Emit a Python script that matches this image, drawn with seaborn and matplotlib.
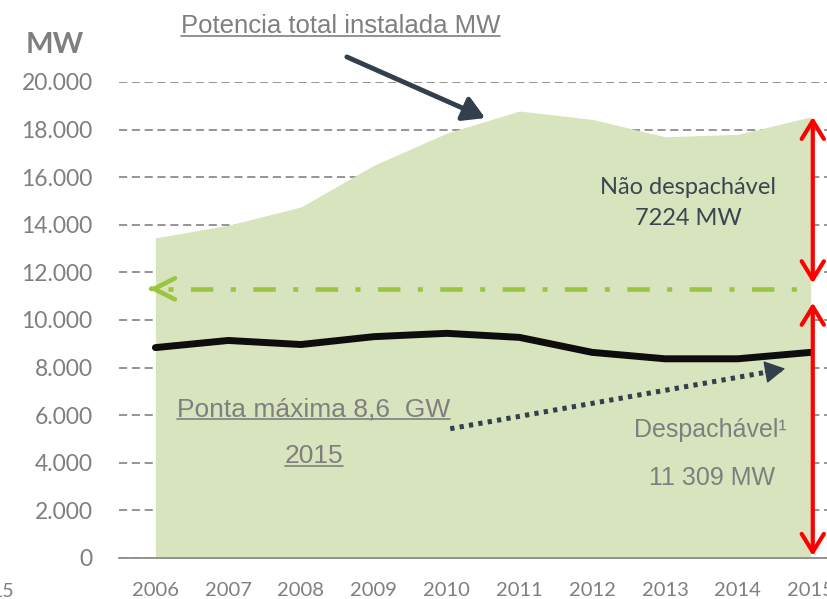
import matplotlib
matplotlib.use("Agg")
import matplotlib.pyplot as plt
import seaborn as sns
from matplotlib.lines import Line2D
from matplotlib.ticker import FuncFormatter, MultipleLocator

# --- dados (MW) ---
anos = ["2006", "2007", "2008", "2009", "2010", "2011", "2012", "2013", "2014", "2015"]
potencia_total = [13450, 13980, 14750, 16500, 17850, 18780, 18430, 17700, 17800, 18533]
ponta_maxima = [8840, 9140, 8970, 9300, 9440, 9270, 8640, 8370, 8370, 8640]
despachavel = 11309
nao_despachavel = 7224
y_ticks = list(range(0, 20001, 2000))

VERDE_AREA = "#D7E4BD"
VERDE_LINHA = "#9BC540"
CINZA = "#7F7F7F"
ESCURO = "#333F4C"

W, H = 828, 599


def fig_xy(px, py):
    # pixel da imagem -> coordenadas da figura
    return px / W, 1 - py / H


sns.set_style("white")
plt.rcParams["font.family"] = ["Lato", "DejaVu Sans"]

fig = plt.figure(figsize=(W / 100, H / 100), dpi=100)
ax = fig.add_axes([119 / W, 41 / H, 728 / W, 476 / H])

x_pos = list(range(len(anos)))

# area da potencia instalada
ax.fill_between(x_pos, potencia_total, color=VERDE_AREA, lw=0, zorder=1.5)

# ponta maxima
sns.lineplot(x=x_pos, y=ponta_maxima, ax=ax, color="#0D0D0D", linewidth=5,
             solid_capstyle="round", zorder=3)

# linha despachavel (traco-ponto) com ponta de seta aberta
x_ini, x_fim = 0.17, len(anos) - 1 - 0.04
ax.plot([x_ini, x_fim], [despachavel, despachavel], color=VERDE_LINHA, lw=3.3,
        dashes=(1.1, 3.8, 4.9, 3.8), zorder=3)
ax.annotate("", xy=(-0.088, despachavel), xytext=(2, 0), textcoords="offset points",
            arrowprops=dict(arrowstyle="->,head_length=0.75,head_width=0.38",
                            color=VERDE_LINHA, lw=3.3, mutation_scale=20,
                            shrinkA=0, shrinkB=0, capstyle="round"),
            zorder=3)

# setas vermelhas
xa = len(anos) - 1 + 0.03
seta_vermelha = dict(arrowstyle="<->,head_length=0.65,head_width=0.4",
                     color="#FF0000", lw=3, mutation_scale=20)
ax.annotate("", xy=(xa, potencia_total[-1]), xytext=(xa, despachavel),
            arrowprops=dict(seta_vermelha, shrinkA=4, shrinkB=0),
            annotation_clip=False, zorder=4)
ax.annotate("", xy=(xa, 0), xytext=(xa, despachavel),
            arrowprops=dict(seta_vermelha, shrinkA=10, shrinkB=1.5),
            annotation_clip=False, zorder=4)

# seta "Potencia total instalada"
ax.annotate("", xy=(4.53, 18484), xytext=(2.63, 21053),
            arrowprops=dict(arrowstyle="-|>,head_length=0.65,head_width=0.38",
                            color=ESCURO, lw=3.5, mutation_scale=20,
                            shrinkA=0, shrinkB=0),
            annotation_clip=False, zorder=4)

# seta pontilhada "Ponta maxima"
ax.plot([4.05, 8.6], [5432, 7920], color=ESCURO, lw=3.6, dashes=(0.85, 1.05),
        solid_capstyle="butt", zorder=4)
ax.annotate("", xy=(8.65, 7958), xytext=(-14.2, -2.5), textcoords="offset points",
            arrowprops=dict(arrowstyle="-|>,head_length=0.65,head_width=0.36",
                            color=ESCURO, lw=1, mutation_scale=20,
                            shrinkA=0, shrinkB=0),
            zorder=4)

# eixos
ax.set_xlim(-0.5, len(anos) - 0.5)
ax.set_ylim(0, 20000)
ax.set_xticks(x_pos)
ax.set_xticklabels(anos)
ax.xaxis.set_minor_locator(MultipleLocator(1, offset=0.5))
ax.set_yticks(y_ticks)
ax.yaxis.set_major_formatter(FuncFormatter(lambda v, p: f"{int(v):,}".replace(",", ".")))
ax.tick_params(axis="x", which="major", length=0, pad=17, labelsize=14.5, labelcolor=CINZA)
ax.tick_params(axis="x", which="minor", length=6, width=1.3, color="#8C8C8C", direction="out")
ax.tick_params(axis="y", length=0, pad=19, labelsize=16.5, labelcolor=CINZA)

ax.set_axisbelow(True)
ax.yaxis.grid(True, color="#8C8C8C", lw=1.3, linestyle=(0, (4.5, 2.6)))
ax.xaxis.grid(False)
for lado in ["top", "right", "left"]:
    ax.spines[lado].set_visible(False)
ax.spines["bottom"].set_color("#8C8C8C")
ax.spines["bottom"].set_linewidth(1.3)
ax.set_xlabel("")
ax.set_ylabel("")

# textos
ARIAL = ["Liberation Sans", "DejaVu Sans"]
fig.text(*fig_xy(26, 53), "MW", fontsize=21, fontweight="bold", color=CINZA,
         ha="left", va="baseline")
fig.text(*fig_xy(-9, 597), "15", fontsize=14, color=CINZA, ha="left", va="baseline")

t_pot = fig.text(*fig_xy(181, 33), "Potencia total instalada MW", fontsize=18.5,
                 color=CINZA, family=ARIAL, ha="left", va="baseline")
t_ponta = fig.text(*fig_xy(177, 416), "Ponta máxima 8,6  GW", fontsize=19,
                   color=CINZA, family=ARIAL, ha="left", va="baseline")
t_2015 = fig.text(*fig_xy(314, 463), "2015", fontsize=19, color=CINZA, family=ARIAL,
                  ha="center", va="baseline")

fig.text(*fig_xy(688, 194), "Não despachável", fontsize=17, color="#3B4651",
         ha="center", va="baseline")
fig.text(*fig_xy(688, 225), f"{nao_despachavel} MW", fontsize=17, color="#3B4651",
         ha="center", va="baseline")
fig.text(*fig_xy(710, 437), "Despachável¹", fontsize=18, color=CINZA, family=ARIAL,
         ha="center", va="baseline")
fig.text(*fig_xy(712, 485), f"{despachavel // 1000} {despachavel % 1000:03d} MW",
         fontsize=18, color=CINZA, family=ARIAL, ha="center", va="baseline")

# sublinhados
fig.canvas.draw()
renderer = fig.canvas.get_renderer()
for t, base_y in [(t_pot, 33), (t_ponta, 416), (t_2015, 463)]:
    bb = t.get_window_extent(renderer)
    y = 1 - (base_y + 2.5) / H
    fig.add_artist(Line2D([bb.x0 / W, bb.x1 / W], [y, y], transform=fig.transFigure,
                          color=CINZA, lw=1.2))

fig.savefig("out.png", dpi=100)
